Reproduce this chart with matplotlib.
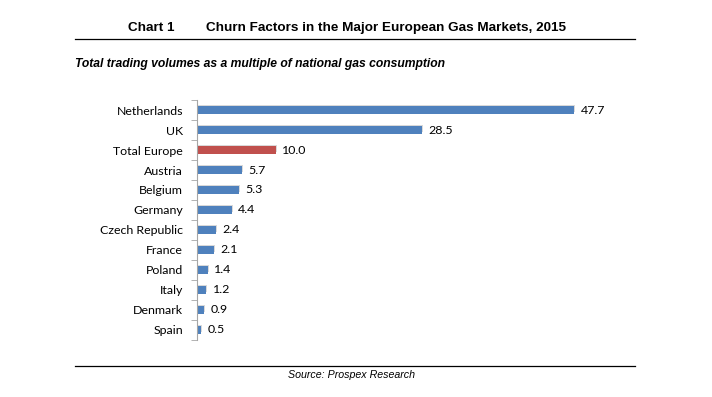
import matplotlib.pyplot as plt
import numpy as np

# Data
countries = ["Netherlands", "UK", "Total Europe", "Austria", "Belgium", "Germany",
             "Czech Republic", "France", "Poland", "Italy", "Denmark", "Spain"]
churn = [47.7, 28.5, 10.0, 5.7, 5.3, 4.4, 2.4, 2.1, 1.4, 1.2, 0.9, 0.5]
colors = ["#C0504D" if c == "Total Europe" else "#4F81BD" for c in countries]

fig = plt.figure(figsize=(7.12, 3.97), dpi=100)
ax = fig.add_axes([0.2767, 0.1436, 0.6362, 0.6045])

y = np.arange(len(countries))
# soft shadow then bars
ax.barh(y - 0.06, churn, height=0.36, left=0.12, color="#d9d9d9", zorder=1)
ax.barh(y, churn, height=0.36, color=colors, zorder=2)

for yi, v in zip(y, churn):
    ax.text(v + 0.8, yi, f"{v:.1f}", va="center", ha="left",
            fontsize=8.9, family="Lato")

ax.set_ylim(len(countries) - 0.5, -0.5)
ax.set_xlim(0, 57.3)
ax.set_yticks(y)
ax.set_yticklabels(countries, fontsize=8.9, family="Lato")
ax.tick_params(axis="y", length=0, pad=10)
ax.set_yticks(np.arange(-0.5, len(countries)), minor=True)
ax.tick_params(axis="y", which="minor", length=4, color="#a6a6a6", direction="out")
ax.set_xticks([])
for s in ["top", "right", "bottom"]:
    ax.spines[s].set_visible(False)
ax.spines["left"].set_color("#a6a6a6")

# header and footer
fig.text(128 / 712, 1 - 28 / 397, "Chart 1", ha="left", va="center",
         fontsize=9.7, fontweight="bold", family="Liberation Sans")
fig.text(206 / 712, 1 - 28 / 397, "Churn Factors in the Major European Gas Markets, 2015",
         ha="left", va="center", fontsize=9.7, fontweight="bold", family="Liberation Sans")
fig.add_artist(plt.Line2D([75 / 712, 635 / 712], [1 - 39 / 397] * 2, color="black", lw=0.9))
fig.text(75 / 712, 1 - 64 / 397, "Total trading volumes as a multiple of national gas consumption",
         ha="left", va="center", fontsize=8.7, fontweight="bold", style="italic",
         family="Liberation Sans")
fig.add_artist(plt.Line2D([75 / 712, 635 / 712], [1 - 366 / 397] * 2, color="black", lw=0.9))
fig.text(352 / 712, 1 - 375 / 397, "Source: Prospex Research", ha="center", va="center",
         fontsize=7.7, style="italic", family="Liberation Sans")

fig.savefig("out.png", dpi=100)
